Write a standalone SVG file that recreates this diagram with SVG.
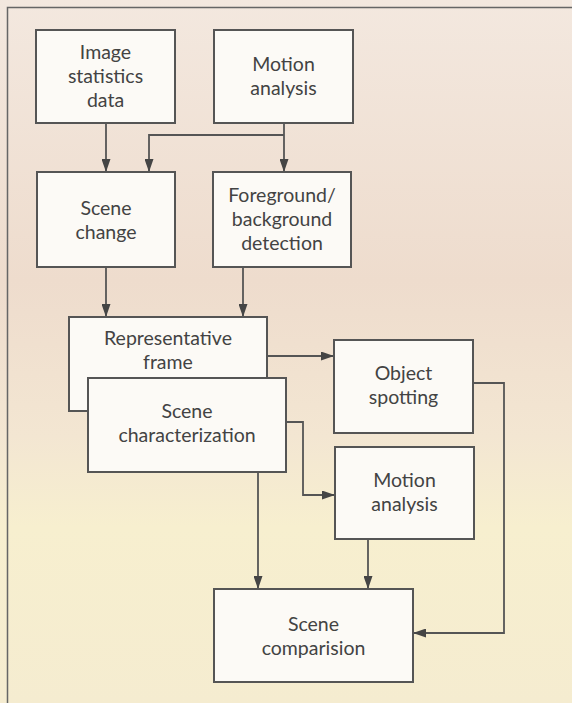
<svg xmlns="http://www.w3.org/2000/svg" width="572" height="703" viewBox="0 0 572 703">
<defs>
<linearGradient id="bg" x1="0" y1="0" x2="0" y2="1">
<stop offset="0" stop-color="#f3e8df"/>
<stop offset="0.4" stop-color="#eedccd"/>
<stop offset="0.62" stop-color="#f3e6d2"/>
<stop offset="0.75" stop-color="#f7efcf"/>
<stop offset="1" stop-color="#f5ecd0"/>
</linearGradient>
<marker id="arr" viewBox="0 0 13 9" refX="13" refY="4.5" markerWidth="13" markerHeight="9" markerUnits="userSpaceOnUse" orient="auto">
<path d="M0,0 L13,4.5 L0,9 Z" fill="#454545"/>
</marker>
<style>
.box{fill:#fcfaf6;stroke:#555;stroke-width:2}
.t{font-family:Lato,"Open Sans",sans-serif;font-size:19.5px;fill:#434343;text-anchor:middle}
.c{fill:none;stroke:#555;stroke-width:1.8}
.frame{fill:none;stroke:#666;stroke-width:1.5}
</style>
</defs>
<rect x="0" y="0" width="572" height="703" fill="url(#bg)"/>
<path class="frame" d="M7.5,703 V7.5 H572"/>
<g id="connectors">
<path class="c" d="M106,123 V172" marker-end="url(#arr)"/>
<path class="c" d="M284,123 V172" marker-end="url(#arr)"/>
<path class="c" d="M284,135 H149 V172" marker-end="url(#arr)"/>
<path class="c" d="M106,267 V317" marker-end="url(#arr)"/>
<path class="c" d="M243,267 V317" marker-end="url(#arr)"/>
<path class="c" d="M267,356 H334" marker-end="url(#arr)"/>
<path class="c" d="M286,422 H303 V495 H335" marker-end="url(#arr)"/>
<path class="c" d="M473,383 H504 V633 H413" marker-end="url(#arr)"/>
<path class="c" d="M258,472 V589" marker-end="url(#arr)"/>
<path class="c" d="M368,539 V589" marker-end="url(#arr)"/>
</g>
<g id="image-statistics">
<rect class="box" x="36" y="30" width="139" height="93"/>
<text class="t" x="105.5" y="59">Image</text>
<text class="t" x="105.5" y="83">statistics</text>
<text class="t" x="105.5" y="107">data</text>
</g>
<g id="motion-analysis-top">
<rect class="box" x="214" y="30" width="139" height="93"/>
<text class="t" x="283.5" y="71">Motion</text>
<text class="t" x="283.5" y="95">analysis</text>
</g>
<g id="scene-change">
<rect class="box" x="37" y="172" width="138" height="95"/>
<text class="t" x="106" y="215">Scene</text>
<text class="t" x="106" y="239">change</text>
</g>
<g id="foreground-detection">
<rect class="box" x="213" y="172" width="138" height="95"/>
<text class="t" x="282" y="202">Foreground/</text>
<text class="t" x="282" y="226">background</text>
<text class="t" x="282" y="250">detection</text>
</g>
<g id="representative-frame">
<rect class="box" x="69" y="317" width="198" height="94"/>
<text class="t" x="168" y="345">Representative</text>
<text class="t" x="168" y="369">frame</text>
</g>
<g id="scene-characterization">
<rect class="box" x="88" y="378" width="198" height="94"/>
<text class="t" x="187" y="418">Scene</text>
<text class="t" x="187" y="442">characterization</text>
</g>
<g id="object-spotting">
<rect class="box" x="334" y="340" width="139" height="93"/>
<text class="t" x="403.5" y="380">Object</text>
<text class="t" x="403.5" y="404">spotting</text>
</g>
<g id="motion-analysis-bottom">
<rect class="box" x="335" y="447" width="139" height="92"/>
<text class="t" x="404.5" y="487">Motion</text>
<text class="t" x="404.5" y="511">analysis</text>
</g>
<g id="scene-comparision">
<rect class="box" x="214" y="589" width="199" height="93"/>
<text class="t" x="313.5" y="631">Scene</text>
<text class="t" x="313.5" y="655">comparision</text>
</g>
</svg>
